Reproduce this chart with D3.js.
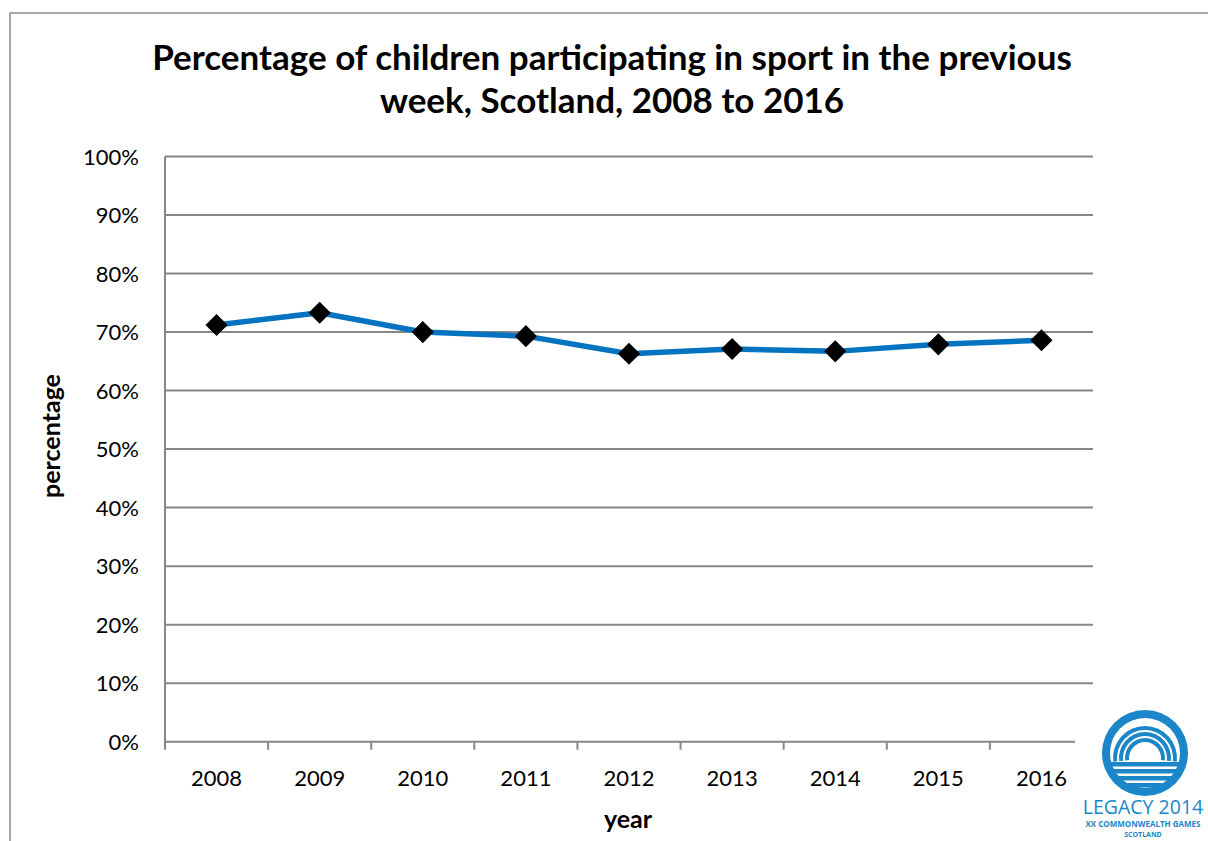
<!DOCTYPE html>
<html>
<head>
<meta charset="utf-8">
<script src="https://cdn.jsdelivr.net/npm/d3@7"></script>
<style>
  html, body { margin: 0; padding: 0; background: #fff; }
  svg { display: block; }
  text { font-family: Lato, "Open Sans", sans-serif; fill: #000; }
</style>
</head>
<body>
<svg id="chart" width="1208" height="841"></svg>
<script>
const years = ["2008", "2009", "2010", "2011", "2012", "2013", "2014", "2015", "2016"];
const participation = [71.2, 73.3, 70.0, 69.3, 66.3, 67.1, 66.7, 67.9, 68.6];
const yTicks = [0, 10, 20, 30, 40, 50, 60, 70, 80, 90, 100];
const titleLines = ["Percentage of children participating in sport in the previous", "week, Scotland, 2008 to 2016"];
const xTitle = "year";
const yTitle = "percentage";

const svg = d3.select("#chart");
const W = 1208, H = 841;
const plot = { left: 165, right: 1093, top: 156.5, bottom: 741.7 };
const gridColor = "#878787";

// outer chart border
svg.append("rect").attr("x", 10).attr("y", 13).attr("width", W + 20).attr("height", H + 20)
  .attr("fill", "#fff").attr("stroke", "#8c8c8c").attr("stroke-width", 1.5);

const x = d3.scaleBand().domain(years).range([plot.left, plot.right]).paddingInner(0).paddingOuter(0);
const y = d3.scaleLinear().domain([0, 100]).range([plot.bottom, plot.top]);

// title
const title = svg.append("text").attr("text-anchor", "middle")
  .style("font-size", "35px").style("font-weight", "bold");
titleLines.forEach((t, i) => {
  title.append("tspan").attr("x", 612).attr("y", 70 + i * 43).text(t);
});

// gridlines
svg.append("g").selectAll("line").data(yTicks.filter(d => d > 0)).join("line")
  .attr("x1", plot.left).attr("x2", plot.right)
  .attr("y1", d => y(d)).attr("y2", d => y(d))
  .attr("stroke", gridColor).attr("stroke-width", 2);

// y axis labels
const yAxis = d3.axisLeft(y).tickValues(yTicks).tickSize(0).tickPadding(0)
  .tickFormat(d => d + "%");
const gy = svg.append("g").attr("transform", `translate(${plot.left - 26},0)`).call(yAxis);
gy.select(".domain").remove();
gy.selectAll("text").style("font-size", "22px").style("font-family", "Lato, 'Open Sans', sans-serif")
  .attr("dy", "0.35em");

// y axis line
svg.append("line").attr("x1", plot.left).attr("x2", plot.left)
  .attr("y1", plot.top).attr("y2", plot.bottom + 8)
  .attr("stroke", gridColor).attr("stroke-width", 2);

// x axis line
svg.append("line").attr("x1", plot.left).attr("x2", plot.right)
  .attr("y1", plot.bottom).attr("y2", plot.bottom)
  .attr("stroke", gridColor).attr("stroke-width", 2);

// x ticks at band boundaries
const bounds = years.map(d => x(d)).concat([x(years[years.length - 1]) + x.bandwidth()]);
svg.append("g").selectAll("line").data(bounds.slice(1)).join("line")
  .attr("x1", d => d).attr("x2", d => d)
  .attr("y1", plot.bottom).attr("y2", plot.bottom + 8)
  .attr("stroke", gridColor).attr("stroke-width", 2);

// x labels
const xAxis = d3.axisBottom(x).tickSize(0).tickPadding(0);
const gx = svg.append("g").attr("transform", `translate(0,${plot.bottom + 44})`).call(xAxis);
gx.select(".domain").remove();
gx.selectAll("text").style("font-size", "22px").style("font-family", "Lato, 'Open Sans', sans-serif")
  .attr("dy", 0);

// axis titles
svg.append("text").attr("x", 628).attr("y", 828).attr("text-anchor", "middle")
  .style("font-size", "25px").style("font-weight", "bold").text(xTitle);
svg.append("text").attr("transform", "translate(60,436) rotate(-90)").attr("text-anchor", "middle")
  .style("font-size", "25px").style("font-weight", "bold").text(yTitle);

// line
const pts = years.map((d, i) => [x(d) + x.bandwidth() / 2, y(participation[i])]);
svg.append("path").attr("d", d3.line()(pts)).attr("fill", "none")
  .attr("stroke", "#0474c1").attr("stroke-width", 5.5).attr("stroke-linejoin", "round");

// diamond markers
const diamond = d3.symbol().type(d3.symbolSquare).size(245);
svg.append("g").selectAll("path").data(pts).join("path")
  .attr("d", diamond)
  .attr("transform", d => `translate(${d[0]},${d[1]}) rotate(45)`)
  .attr("fill", "#000");

// Legacy 2014 logo
const logo = svg.append("g");
const blue = "#1b86c8";
logo.append("rect").attr("x", 1075).attr("y", 700).attr("width", 133).attr("height", 141).attr("fill", "#fff");
const cx = 1145, cy = 753;
logo.append("circle").attr("cx", cx).attr("cy", cy).attr("r", 43).attr("fill", blue);
logo.append("circle").attr("cx", cx).attr("cy", cy).attr("r", 35).attr("fill", "#fff");
// concentric arch rings
[32, 26, 20].forEach(r => {
  logo.append("path")
    .attr("d", d3.arc().innerRadius(r - 4).outerRadius(r).startAngle(-Math.PI / 2 - 0.12).endAngle(Math.PI / 2 + 0.12)())
    .attr("transform", `translate(${cx},${cy + 5})`).attr("fill", blue);
});
// horizontal stripes in lower part
[[9, 34], [16, 31], [23, 26], [30, 17]].forEach(([dy, hw]) => {
  logo.append("rect").attr("x", cx - hw).attr("y", cy + dy).attr("width", 2 * hw).attr("height", 4.5).attr("fill", blue);
});
logo.append("text").attr("x", 1143).attr("y", 814).attr("text-anchor", "middle")
  .style("font-size", "19.5px").style("font-family", "'Open Sans', sans-serif").style("fill", blue).text("LEGACY 2014");
logo.append("text").attr("x", 1143).attr("y", 827).attr("text-anchor", "middle")
  .style("font-size", "8px").style("font-weight", "bold").style("font-family", "'Open Sans', sans-serif")
  .style("fill", blue).text("XX COMMONWEALTH GAMES");
logo.append("text").attr("x", 1143).attr("y", 837).attr("text-anchor", "middle")
  .style("font-size", "7px").style("font-weight", "bold").style("font-family", "'Open Sans', sans-serif")
  .style("fill", blue).text("SCOTLAND");
</script>
</body>
</html>
